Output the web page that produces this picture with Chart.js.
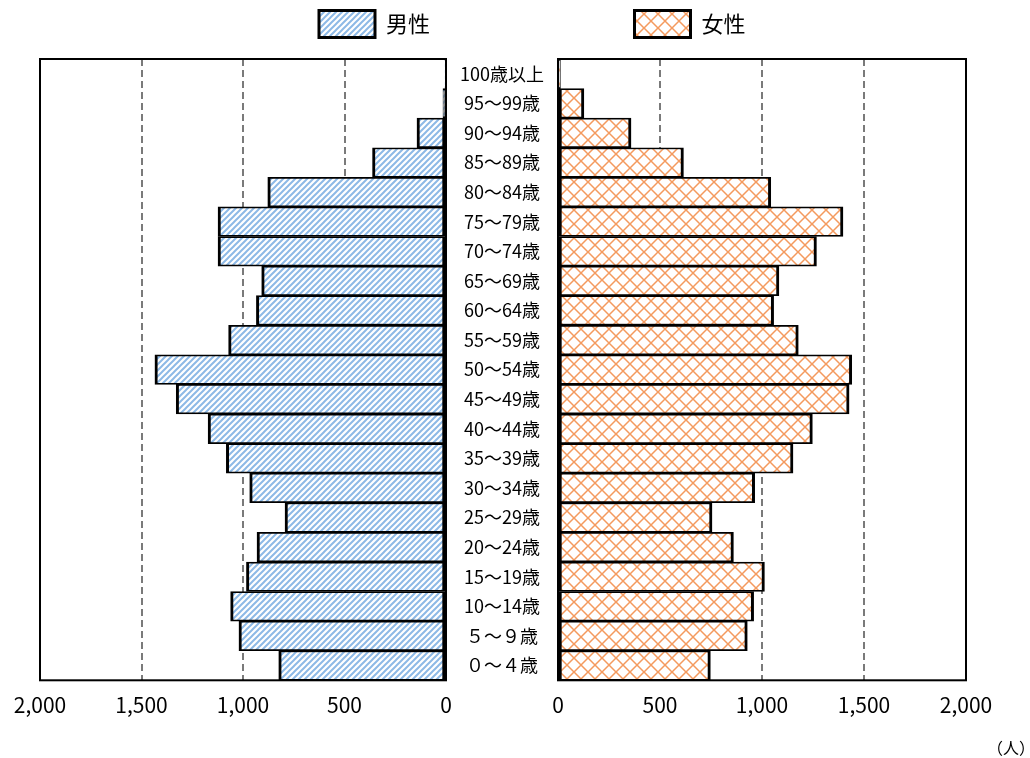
<!DOCTYPE html>
<html lang="ja">
<head>
<meta charset="utf-8">
<title>人口ピラミッド</title>
<script src="https://cdn.jsdelivr.net/npm/chart.js@4.4.1/dist/chart.umd.min.js"></script>
<style>
  html, body { margin: 0; padding: 0; background: #fff; }
  #wrap { position: relative; width: 1030px; height: 758px; }
  #wrap canvas { position: absolute; left: 0; top: 0; }
</style>
</head>
<body>
<div id="wrap">
  <canvas id="maleChart" width="1030" height="758"></canvas>
  <canvas id="femaleChart" width="1030" height="758"></canvas>
</div>
<script>
// 年齢階級（下から上へ）
const ageGroups = ['０～４歳', '５～９歳', '10～14歳', '15～19歳', '20～24歳', '25～29歳', '30～34歳',
  '35～39歳', '40～44歳', '45～49歳', '50～54歳', '55～59歳', '60～64歳', '65～69歳',
  '70～74歳', '75～79歳', '80～84歳', '85～89歳', '90～94歳', '95～99歳', '100歳以上'];

// 人数
const maleCounts = [824, 1020, 1061, 983, 931, 793, 967, 1082, 1172, 1329, 1434,
  1071, 934, 908, 1123, 1123, 878, 362, 143, 15, 5];
const femaleCounts = [747, 928, 959, 1012, 860, 755, 964, 1152, 1247, 1427, 1440,
  1178, 1057, 1083, 1267, 1397, 1043, 615, 358, 127, 12];

// 目盛
const tickValues = [0, 500, 1000, 1500, 2000];
const tickLabels = ['0', '500', '1,000', '1,500', '2,000'];
const unitLabel = '（人）';

Chart.defaults.font.family = '"Noto Sans CJK JP", "Noto Sans", sans-serif';
Chart.defaults.color = '#000';

// 斜線パターン（男性）
function stripePattern() {
  const c = document.createElement('canvas');
  c.width = 6; c.height = 6;
  const g = c.getContext('2d');
  g.fillStyle = '#fff';
  g.fillRect(0, 0, 6, 6);
  g.strokeStyle = '#8DB9E6';
  g.lineWidth = 2;
  g.beginPath();
  g.moveTo(0, 6); g.lineTo(6, 0);
  g.moveTo(-1, 1); g.lineTo(1, -1);
  g.moveTo(5, 7); g.lineTo(7, 5);
  g.stroke();
  return g.createPattern(c, 'repeat');
}

// 格子パターン（女性）
function crossPattern() {
  const c = document.createElement('canvas');
  c.width = 14; c.height = 14;
  const g = c.getContext('2d');
  g.fillStyle = '#fff';
  g.fillRect(0, 0, 14, 14);
  g.strokeStyle = '#F49A5E';
  g.lineWidth = 1.5;
  g.beginPath();
  g.moveTo(0, 0); g.lineTo(14, 14);
  g.moveTo(14, 0); g.lineTo(0, 14);
  g.stroke();
  return g.createPattern(c, 'repeat');
}

// 枠線
const framePlugin = {
  id: 'frame',
  afterDraw(chart) {
    const a = chart.chartArea, ctx = chart.ctx;
    ctx.save();
    ctx.strokeStyle = '#000';
    ctx.lineWidth = 2;
    ctx.strokeRect(a.left, a.top, a.right - a.left, a.bottom - a.top);
    ctx.restore();
  }
};

// 単位
const unitPlugin = {
  id: 'unit',
  afterDraw(chart) {
    const ctx = chart.ctx;
    ctx.save();
    ctx.font = '16px "Noto Sans CJK JP", sans-serif';
    ctx.fillStyle = '#000';
    ctx.textAlign = 'right';
    ctx.textBaseline = 'middle';
    ctx.fillText(unitLabel, chart.width + 5, chart.chartArea.bottom + 68);
    ctx.restore();
  }
};

const legendOpts = (align) => ({
  position: 'top',
  align: align,
  labels: {
    boxWidth: 56,
    boxHeight: 27,
    padding: 16,
    font: { size: 22 },
    color: '#000',
    generateLabels: (c) => Chart.defaults.plugins.legend.labels.generateLabels(c)
      .map(l => Object.assign(l, { lineWidth: 3, strokeStyle: '#000' }))
  }
});

const xAxis = (reverse) => ({
  type: 'linear',
  position: 'bottom',
  reverse: reverse,
  min: 0,
  max: 2000,
  afterBuildTicks: (s) => { s.ticks = tickValues.map(v => ({ value: v })); },
  ticks: {
    padding: 12,
    font: { size: 21 },
    color: '#000',
    maxRotation: 0,
    callback: (v) => tickLabels[tickValues.indexOf(v)]
  },
  grid: {
    drawTicks: false,
    lineWidth: 2,
    color: (ctx) => (ctx.tick && ctx.tick.value % 2000 !== 0) ? '#7A7A7A' : 'rgba(0,0,0,0)'
  },
  border: { display: false, dash: [7, 4] }
});

// 凡例の下の余白用
const spacerAxis = {
  type: 'linear',
  position: 'top',
  display: true,
  ticks: { display: false },
  grid: { display: false },
  border: { display: false },
  afterFit: (s) => { s.height = 11.5; }
};

const barStyle = {
  borderColor: '#000',
  borderWidth: { top: 1.75, bottom: 1.75, left: 3, right: 3 },
  borderSkipped: false,
  barPercentage: 1,
  categoryPercentage: 1
};

new Chart(document.getElementById('maleChart'), {
  type: 'bar',
  data: {
    labels: ageGroups,
    datasets: [Object.assign({ label: '男性', data: maleCounts, backgroundColor: stripePattern() }, barStyle)]
  },
  options: {
    indexAxis: 'y',
    responsive: false,
    animation: false,
    layout: { padding: { left: 40, right: 584, top: -5.5, bottom: 28.5 } },
    plugins: { legend: legendOpts('end'), tooltip: { enabled: false } },
    scales: {
      x: xAxis(true),
      xTop: spacerAxis,
      y: { display: false, reverse: true }
    }
  },
  plugins: [framePlugin]
});

new Chart(document.getElementById('femaleChart'), {
  type: 'bar',
  data: {
    labels: ageGroups,
    datasets: [Object.assign({ label: '女性', data: femaleCounts, backgroundColor: crossPattern() }, barStyle)]
  },
  options: {
    indexAxis: 'y',
    responsive: false,
    animation: false,
    layout: { padding: { left: 414, right: 64, top: -5.5, bottom: 28.5 } },
    plugins: { legend: legendOpts('center'), tooltip: { enabled: false } },
    scales: {
      x: xAxis(false),
      xTop: spacerAxis,
      y: {
        position: 'left',
        reverse: true,
        afterFit: (s) => { s.width = 144; },
        ticks: {
          autoSkip: false,
          crossAlign: 'center',
          padding: 14,
          font: { size: 18 },
          color: '#000'
        },
        grid: { display: false, drawTicks: false },
        border: { display: false }
      }
    }
  },
  plugins: [framePlugin, unitPlugin]
});
</script>
</body>
</html>
